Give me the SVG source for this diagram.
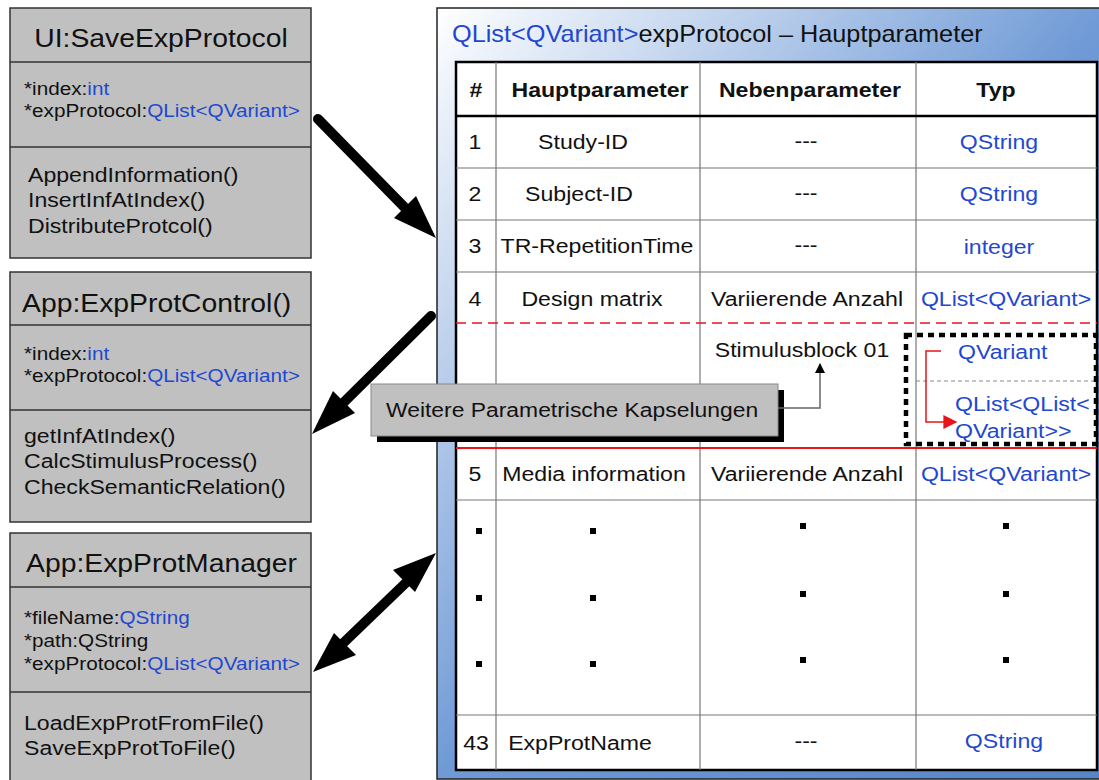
<svg xmlns="http://www.w3.org/2000/svg" width="1099" height="780" viewBox="0 0 1099 780">
<defs>
<linearGradient id="pg" x1="0" y1="0" x2="1" y2="1">
<stop offset="0" stop-color="#ffffff"/>
<stop offset="0.5" stop-color="#6f9ad6"/>
<stop offset="1" stop-color="#5585c8"/>
</linearGradient>
<marker id="sm" viewBox="0 0 10 10" refX="9" refY="5" markerWidth="10" markerHeight="12" orient="auto" markerUnits="userSpaceOnUse">
<path d="M0,0 L10,5 L0,10 Z" fill="#000"/>
</marker>
<marker id="red" viewBox="0 0 10 10" refX="9" refY="5" markerWidth="16" markerHeight="14" orient="auto" markerUnits="userSpaceOnUse">
<path d="M0,0 L10,5 L0,10 Z" fill="#e8141a"/>
</marker>
</defs>
<style>
text{font-family:"Liberation Sans",Arial,sans-serif;fill:#111}
.cls{fill:#c0c0c0;stroke:#333;stroke-width:1.5}
.div{stroke:#333;stroke-width:1.5}
.ttl{font-size:26px}
.at{font-size:18.5px}
.me{font-size:21px}
.b{fill:#1f48d0}
.cell{font-size:21px;text-anchor:middle}
.hd{font-size:21px;font-weight:bold;text-anchor:middle}
.vl{stroke:#777;stroke-width:1.2}
.hl{stroke:#777;stroke-width:1.2}
.arr{stroke:#000;stroke-width:10;fill:none}
.dot{fill:#000}
</style>

<g id="panel">
<rect x="437" y="8" width="680" height="771" fill="url(#pg)" stroke="#222" stroke-width="1.5"/>
<text transform="matrix(1.1 0 0 1 452 42)" font-size="23"><tspan class="b">QList&lt;QVariant&gt;</tspan>expProtocol – Hauptparameter</text>
</g>

<g id="table">
<rect x="456" y="62" width="641" height="708" fill="#fff" stroke="#000" stroke-width="2.5"/>
<line class="vl" x1="496" y1="62" x2="496" y2="770"/>
<line class="vl" x1="700" y1="62" x2="700" y2="770"/>
<line class="vl" x1="916" y1="62" x2="916" y2="770"/>
<line x1="456" y1="116" x2="1097" y2="116" stroke="#000" stroke-width="2.5"/>
<line class="hl" x1="456" y1="168" x2="1097" y2="168"/>
<line class="hl" x1="456" y1="220" x2="1097" y2="220"/>
<line class="hl" x1="456" y1="272" x2="1097" y2="272"/>
<line x1="456" y1="323" x2="1097" y2="323" stroke="#e8141a" stroke-width="1.5" stroke-dasharray="10,6"/>
<line x1="916" y1="381" x2="1097" y2="381" stroke="#888" stroke-width="1" stroke-dasharray="4,3"/>
<line x1="456" y1="448" x2="1097" y2="448" stroke="#e8141a" stroke-width="2"/>
<line class="hl" x1="456" y1="500" x2="1097" y2="500"/>
<line class="hl" x1="456" y1="715" x2="1097" y2="715"/>

<text class="hd" transform="matrix(1.1 0 0 1 476 97)">#</text>
<text class="hd" transform="matrix(1.1 0 0 1 600 97)">Hauptparameter</text>
<text class="hd" transform="matrix(1.1 0 0 1 810 97)">Nebenparameter</text>
<text class="hd" transform="matrix(1.1 0 0 1 996 97)">Typ</text>

<text class="cell" transform="matrix(1.1 0 0 1 475 149)">1</text>
<text class="cell" transform="matrix(1.1 0 0 1 583 149)">Study-ID</text>
<text class="cell" transform="matrix(1.1 0 0 1 806 148)">---</text>
<text class="cell b" transform="matrix(1.1 0 0 1 999 149)">QString</text>

<text class="cell" transform="matrix(1.1 0 0 1 475 201)">2</text>
<text class="cell" transform="matrix(1.1 0 0 1 579 201)">Subject-ID</text>
<text class="cell" transform="matrix(1.1 0 0 1 806 200)">---</text>
<text class="cell b" transform="matrix(1.1 0 0 1 999 201)">QString</text>

<text class="cell" transform="matrix(1.1 0 0 1 475 253)">3</text>
<text class="cell" transform="matrix(1.1 0 0 1 597 253)">TR-RepetitionTime</text>
<text class="cell" transform="matrix(1.1 0 0 1 806 252)">---</text>
<text class="cell b" transform="matrix(1.1 0 0 1 999 254)">integer</text>

<text class="cell" transform="matrix(1.1 0 0 1 475 306)">4</text>
<text class="cell" transform="matrix(1.1 0 0 1 592 306)">Design matrix</text>
<text class="cell" transform="matrix(1.1 0 0 1 807 306)">Variierende Anzahl</text>
<text class="cell b" transform="matrix(1.1 0 0 1 1006 306)">QList&lt;QVariant&gt;</text>

<text class="cell" transform="matrix(1.1 0 0 1 802 357)">Stimulusblock 01</text>
<text class="b" transform="matrix(1.1 0 0 1 958 359)" font-size="21">QVariant</text>
<text class="b" transform="matrix(1.1 0 0 1 955 411)" font-size="21">QList&lt;QList&lt;</text>
<text class="b" transform="matrix(1.1 0 0 1 955 438)" font-size="21">QVariant&gt;&gt;</text>
<rect x="906" y="335" width="190" height="109" fill="none" stroke="#000" stroke-width="4.5" stroke-dasharray="6,5"/>
<polyline points="941,351 926,351 926,422 956,422" fill="none" stroke="#e8141a" stroke-width="1.5" marker-end="url(#red)"/>

<text class="cell" transform="matrix(1.1 0 0 1 475 481)">5</text>
<text class="cell" transform="matrix(1.1 0 0 1 594 481)">Media information</text>
<text class="cell" transform="matrix(1.1 0 0 1 807 481)">Variierende Anzahl</text>
<text class="cell b" transform="matrix(1.1 0 0 1 1006 481)">QList&lt;QVariant&gt;</text>

<rect class="dot" x="476" y="528" width="6" height="6"/>
<rect class="dot" x="590" y="528" width="6" height="6"/>
<rect class="dot" x="800" y="523" width="6" height="6"/>
<rect class="dot" x="1003" y="523" width="6" height="6"/>
<rect class="dot" x="476" y="595" width="6" height="6"/>
<rect class="dot" x="590" y="595" width="6" height="6"/>
<rect class="dot" x="800" y="591" width="6" height="6"/>
<rect class="dot" x="1003" y="591" width="6" height="6"/>
<rect class="dot" x="476" y="661" width="6" height="6"/>
<rect class="dot" x="590" y="661" width="6" height="6"/>
<rect class="dot" x="800" y="657" width="6" height="6"/>
<rect class="dot" x="1003" y="657" width="6" height="6"/>

<text class="cell" transform="matrix(1.1 0 0 1 476 750)">43</text>
<text class="cell" transform="matrix(1.1 0 0 1 580 750)">ExpProtName</text>
<text class="cell" transform="matrix(1.1 0 0 1 806 748)">---</text>
<text class="cell b" transform="matrix(1.1 0 0 1 1004 748)">QString</text>
</g>

<g id="callout">
<rect x="377" y="390" width="407" height="52" fill="#000"/>
<rect x="371" y="384" width="407" height="52" fill="#c0c0c0" stroke="#888" stroke-width="1"/>
<text transform="matrix(1.09 0 0 1 386 417)" font-size="21">Weitere Parametrische Kapselungen</text>
</g>

<g id="box1">
<rect class="cls" x="10" y="8" width="301" height="250"/>
<line class="div" x1="10" y1="62" x2="311" y2="62"/>
<line class="div" x1="10" y1="147" x2="311" y2="147"/>
<text class="ttl" transform="matrix(1.09 0 0 1 161 47)" text-anchor="middle">UI:SaveExpProtocol</text>
<text class="at" transform="matrix(1.12 0 0 1 24 95)">*index:<tspan class="b">int</tspan></text>
<text class="at" transform="matrix(1.12 0 0 1 24 117)">*expProtocol:<tspan class="b">QList&lt;QVariant&gt;</tspan></text>
<text class="me" transform="matrix(1.1 0 0 1 28 182)">AppendInformation()</text>
<text class="me" transform="matrix(1.1 0 0 1 28 207)">InsertInfAtIndex()</text>
<text class="me" transform="matrix(1.1 0 0 1 28 233)">DistributeProtcol()</text>
</g>

<g id="box2">
<rect class="cls" x="10" y="272" width="301" height="250"/>
<line class="div" x1="10" y1="325" x2="311" y2="325"/>
<line class="div" x1="10" y1="410" x2="311" y2="410"/>
<text class="ttl" transform="matrix(1.09 0 0 1 22 312)">App:ExpProtControl()</text>
<text class="at" transform="matrix(1.12 0 0 1 24 360)">*index:<tspan class="b">int</tspan></text>
<text class="at" transform="matrix(1.12 0 0 1 24 382)">*expProtocol:<tspan class="b">QList&lt;QVariant&gt;</tspan></text>
<text class="me" transform="matrix(1.1 0 0 1 24 443)">getInfAtIndex()</text>
<text class="me" transform="matrix(1.1 0 0 1 24 468)">CalcStimulusProcess()</text>
<text class="me" transform="matrix(1.1 0 0 1 24 494)">CheckSemanticRelation()</text>
</g>

<g id="box3">
<rect class="cls" x="10" y="533" width="301" height="260"/>
<line class="div" x1="10" y1="587" x2="311" y2="587"/>
<line class="div" x1="10" y1="692" x2="311" y2="692"/>
<text class="ttl" transform="matrix(1.09 0 0 1 26 572)">App:ExpProtManager</text>
<text class="at" transform="matrix(1.12 0 0 1 24 624)">*fileName:<tspan class="b">QString</tspan></text>
<text class="at" transform="matrix(1.12 0 0 1 24 647)">*path:QString</text>
<text class="at" transform="matrix(1.12 0 0 1 24 670)">*expProtocol:<tspan class="b">QList&lt;QVariant&gt;</tspan></text>
<text class="me" transform="matrix(1.1 0 0 1 24 730)">LoadExpProtFromFile()</text>
<text class="me" transform="matrix(1.1 0 0 1 24 755)">SaveExpProtToFile()</text>
</g>

<g id="connectors">
<line class="arr" x1="318" y1="119" x2="414" y2="217" stroke-linecap="round"/>
<path d="M436,238 L394,218 L416,196 Z" fill="#000"/>
<line class="arr" x1="431" y1="316" x2="335" y2="411" stroke-linecap="round"/>
<path d="M312,434 L333,391 L355,413 Z" fill="#000"/>
<line class="arr" x1="336" y1="650" x2="414" y2="575"/>
<path d="M436,553 L393,570 L415,592 Z" fill="#000"/>
<path d="M313,672 L356,655 L334,633 Z" fill="#000"/>
<polyline points="778,408 820,408 820,364" fill="none" stroke="#666" stroke-width="1.5" marker-end="url(#sm)"/>
</g>
</svg>
